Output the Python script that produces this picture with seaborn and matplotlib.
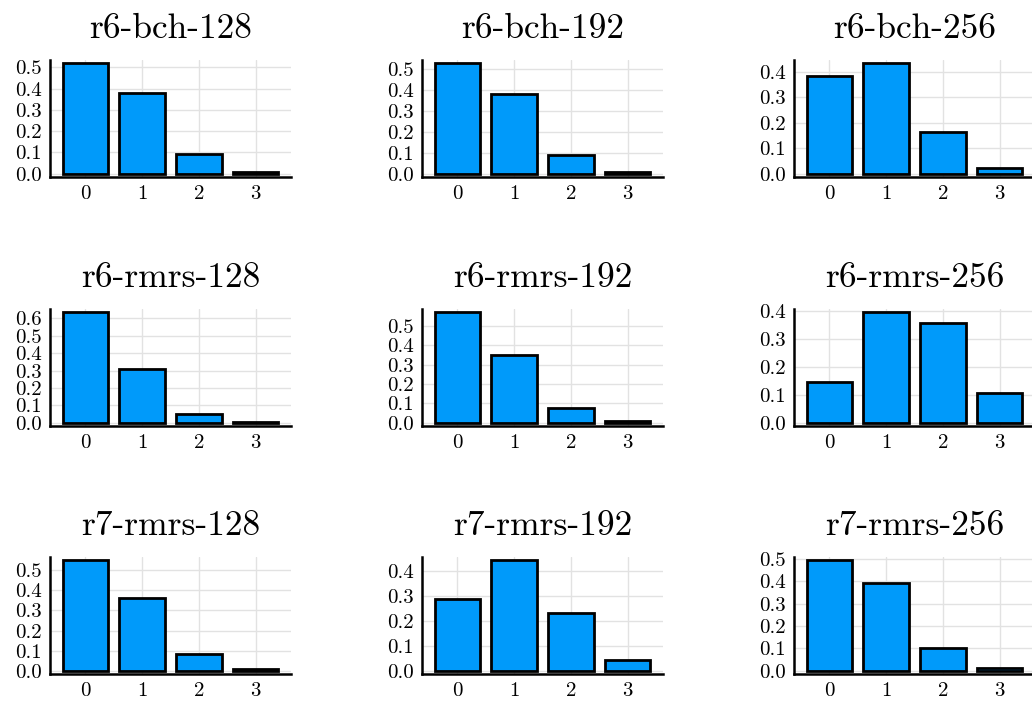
import numpy as np
import pandas as pd
import matplotlib
matplotlib.use("Agg")
import matplotlib.pyplot as plt
import seaborn as sns
from matplotlib.ticker import MultipleLocator, FormatStrFormatter

# ---- data ----
categories = ["0", "1", "2", "3"]
titles = ["r6-bch-128", "r6-bch-192", "r6-bch-256",
          "r6-rmrs-128", "r6-rmrs-192", "r6-rmrs-256",
          "r7-rmrs-128", "r7-rmrs-192", "r7-rmrs-256"]
r6_bch_128 = [0.519, 0.380, 0.092, 0.007]
r6_bch_192 = [0.525, 0.378, 0.090, 0.008]
r6_bch_256 = [0.383, 0.433, 0.162, 0.021]
r6_rmrs_128 = [0.635, 0.310, 0.050, 0.004]
r6_rmrs_192 = [0.570, 0.349, 0.075, 0.007]
r6_rmrs_256 = [0.144, 0.394, 0.357, 0.107]
r7_rmrs_128 = [0.550, 0.363, 0.081, 0.006]
r7_rmrs_192 = [0.287, 0.443, 0.230, 0.041]
r7_rmrs_256 = [0.494, 0.391, 0.103, 0.013]
series = [r6_bch_128, r6_bch_192, r6_bch_256,
          r6_rmrs_128, r6_rmrs_192, r6_rmrs_256,
          r7_rmrs_128, r7_rmrs_192, r7_rmrs_256]

sns.set_style("white")
plt.rcParams["font.family"] = ["cmr10", "DejaVu Serif"]
plt.rcParams["mathtext.fontset"] = "cm"
plt.rcParams["axes.formatter.use_mathtext"] = True
plt.rcParams["text.color"] = "black"

W, H = 1032, 701
fig = plt.figure(figsize=(W / 100, H / 100), dpi=100)

col_left = [50, 422, 794]
row_top = [60, 309, 557]
ax_w, ax_h = 241, 117

for i, (title, vals) in enumerate(zip(titles, series)):
    r, c = divmod(i, 3)
    left = col_left[c] / W
    bottom = 1 - (row_top[r] + ax_h) / H
    ax = fig.add_axes([left, bottom, ax_w / W, ax_h / H])
    df = pd.DataFrame({"k": categories, "p": vals})
    sns.barplot(data=df, x="k", y="p", ax=ax, color="#009AFA",
                saturation=1, width=0.8, edgecolor="black", linewidth=2.0)
    m = max(vals)
    ax.set_xlim(-0.62, 3.62)
    ax.set_ylim(-0.03 * m, 1.03 * m)
    ax.yaxis.set_major_locator(MultipleLocator(0.1))
    ax.yaxis.set_major_formatter(FormatStrFormatter("%.1f"))
    ax.set_xlabel("")
    ax.set_ylabel("")
    ax.set_axisbelow(True)
    ax.grid(True, color="#e2e2e2", linewidth=1.0)
    for s in ["top", "right"]:
        ax.spines[s].set_visible(False)
    for s in ["left", "bottom"]:
        ax.spines[s].set_color("black")
        ax.spines[s].set_linewidth(1.8)
    ax.tick_params(direction="in", length=4, width=1.2, colors="#222222",
                   labelcolor="black", labelsize=15, pad=6)
    ax.set_title(title, fontsize=25.5, pad=16, color="black")

fig.savefig("out.png", dpi=100)
